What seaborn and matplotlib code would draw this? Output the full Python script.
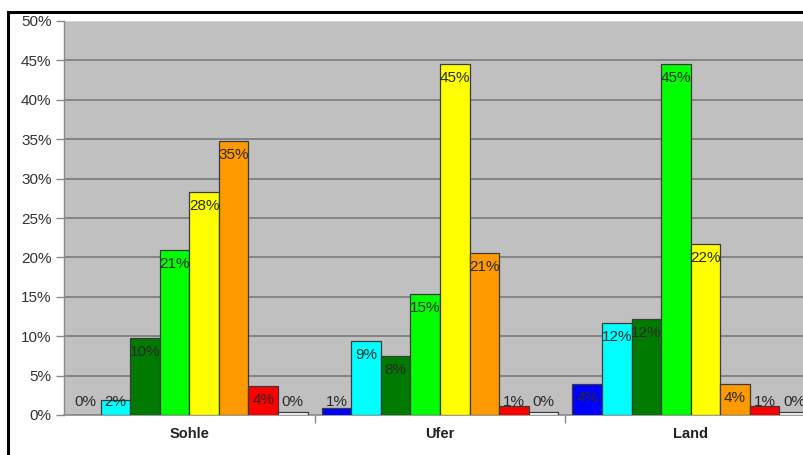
import matplotlib
matplotlib.use("Agg")
import matplotlib.pyplot as plt
from matplotlib.patches import Rectangle
from matplotlib.ticker import FixedLocator
import pandas as pd
import seaborn as sns

# Shares per area (in percent) for the eight classes
gebiete = ["Sohle", "Ufer", "Land"]
klassen = ["1", "2", "3", "4", "5", "6", "7", "8"]
farben = ["#0000FF", "#00FFFF", "#007A00", "#00FF00",
          "#FFFF00", "#FF9900", "#FF0000", "#FFFFFF"]
sohle = [0.0, 1.9, 9.8, 20.9, 28.3, 34.8, 3.7, 0.4]
ufer = [0.9, 9.4, 7.5, 15.4, 44.6, 20.6, 1.1, 0.4]
land = [3.9, 11.7, 12.2, 44.6, 21.7, 3.9, 1.1, 0.4]
y_ticks = [0, 5, 10, 15, 20, 25, 30, 35, 40, 45, 50]

rows = []
for g, werte in zip(gebiete, [sohle, ufer, land]):
    for k, v in zip(klassen, werte):
        rows.append({"Gebiet": g, "Klasse": k, "Anteil": v})
df = pd.DataFrame(rows)

sns.set_theme(style="white")
plt.rcParams["font.family"] = ["Liberation Sans", "DejaVu Sans"]

W, H = 804, 455
fig = plt.figure(figsize=(W / 100, H / 100), dpi=100)
fig.patch.set_facecolor("white")

left, right, top, bottom = 64, 816, 21, 415
ax = fig.add_axes([left / W, 1 - bottom / H, (right - left) / W, (bottom - top) / H])
ax.set_facecolor("#C0C0C0")

sns.barplot(data=df, x="Gebiet", y="Anteil", hue="Klasse",
            order=gebiete, hue_order=klassen, palette=farben,
            saturation=1, width=0.944, edgecolor="#3a3a3a", linewidth=0.9,
            legend=False, ax=ax, zorder=3, errorbar=None)

ax.set_xlim(-0.5, 2.5)
ax.set_ylim(0, 50)
ax.set_yticks(y_ticks)
ax.set_yticklabels([f"{t}%" for t in y_ticks], fontsize=11, color="#333333")
for t in y_ticks[1:-1]:
    ax.axhline(t, color="#7f7f7f", linewidth=1.3, zorder=1)
ax.axhline(50, color="#d8d8d8", linewidth=1.3, zorder=1)

for s in ["top", "right"]:
    ax.spines[s].set_visible(False)
ax.spines["left"].set_color("#8a8a8a")
ax.spines["bottom"].set_color("#8a8a8a")
ax.spines["left"].set_linewidth(1.0)
ax.spines["bottom"].set_linewidth(1.2)

ax.tick_params(axis="y", direction="out", length=6, width=1, color="#8a8a8a", pad=3, left=True)
ax.tick_params(axis="x", which="major", length=0, pad=9)
ax.xaxis.set_minor_locator(FixedLocator([0.5, 1.5]))
ax.tick_params(axis="x", which="minor", direction="out", length=6, width=1,
               color="#8a8a8a", bottom=True)
ax.set_xticks(range(len(gebiete)))
ax.set_xticklabels(gebiete, fontsize=10.5, fontweight="bold", color="#222222")
ax.set_xlabel("")
ax.set_ylabel("")

# Value labels near the top of each bar
for cont in ax.containers:
    for bar in cont:
        v = bar.get_height()
        x = bar.get_x() + bar.get_width() / 2
        y = max(v - 1.8, 1.65)
        ax.text(x, y, f"{v:.0f}%", ha="center", va="center",
                fontsize=11, color="#2a2a2a", zorder=5)

# Outer frame of the chart
fig.patches.append(Rectangle((8 / W, -0.1), 1.2, 1 - 12 / H + 0.1,
                             transform=fig.transFigure, fill=False,
                             edgecolor="black", linewidth=2.2, zorder=10))

fig.savefig("out.png", dpi=100)
